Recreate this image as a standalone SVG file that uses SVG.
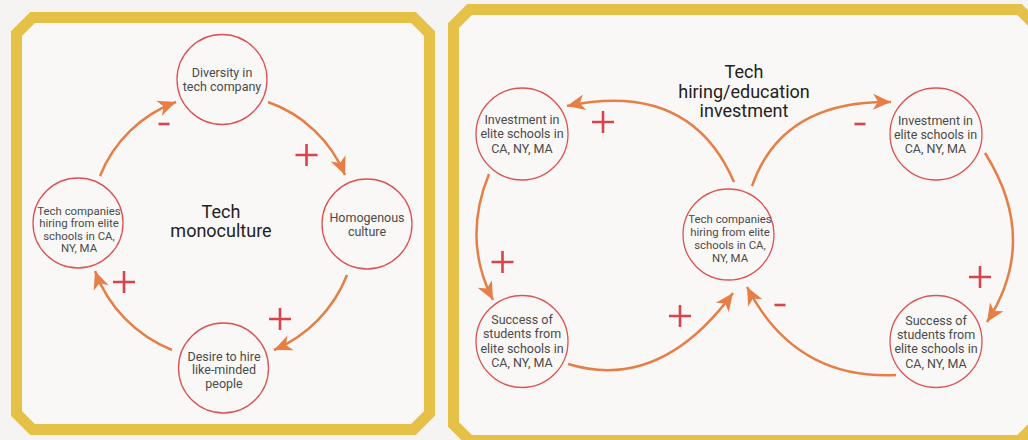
<svg xmlns="http://www.w3.org/2000/svg" width="1028" height="440" viewBox="0 0 1028 440">
<style>
.frame{fill:#faf8f6;stroke:#e6c148;stroke-width:11;stroke-linejoin:miter}
.node{fill:#faf8f6;stroke:#dc5252;stroke-width:1.3}
.nt{font-family:Roboto,"Liberation Sans",sans-serif;font-size:12.5px;fill:#4a4a4a;text-anchor:middle}
.nts{font-size:11.4px}
.title{font-family:Roboto,"Liberation Sans",sans-serif;font-size:18px;fill:#222;text-anchor:middle}
.arr{fill:none;stroke:#e57f47;stroke-width:2.5;marker-end:url(#head)}
.sign{stroke:#d9434a;stroke-width:2.6;fill:none}
</style>
<defs>
<marker id="head" markerUnits="userSpaceOnUse" markerWidth="20" markerHeight="18" refX="18" refY="8" orient="auto" overflow="visible">
<path d="M0,0 L18,8 L0,16 L5,8 Z" fill="#e57f47"/>
</marker>
</defs>
<rect width="1028" height="440" fill="#f6f4f2"/>
<polygon class="frame" points="32.5,17.5 413.5,17.5 429.5,33.5 429.5,413.5 413.5,429.5 32.5,429.5 16.5,413.5 16.5,33.5"/>
<polygon class="frame" points="469.5,9.5 1019.5,9.5 1035.5,25.5 1035.5,424.5 1019.5,440.5 469.5,440.5 453.5,424.5 453.5,25.5"/>

<g id="title-left"><text class="title" x="221" y="218">Tech</text><text class="title" x="221" y="237">monoculture</text></g>
<g id="title-right"><text class="title" x="744" y="78">Tech</text><text class="title" x="744" y="97.5">hiring/education</text><text class="title" x="744" y="117">investment</text></g>

<g id="connectors">
<path class="arr" d="M100,176 A130,130 0 0,1 176,102"/>
<path class="arr" d="M268,102 A130,130 0 0,1 345,175"/>
<path class="arr" d="M347,275 A135,135 0 0,1 274,350"/>
<path class="arr" d="M172,350 A135,135 0 0,1 95,271"/>
<path class="arr" d="M734,182 Q690,80 567,106"/>
<path class="arr" d="M489,174 Q462,240 493,300"/>
<path class="arr" d="M568,364 Q660,392 733,293"/>
<path class="arr" d="M752,186 Q782,100 891,102"/>
<path class="arr" d="M985,153 Q1040,240 987,322"/>
<path class="arr" d="M896,375 Q795,380 747,287"/>
</g>

<g id="signs">
<path class="sign" d="M158.5,124 H169.5"/>
<path class="sign" d="M295.5,155 H317.5 M306.5,144 V166"/>
<path class="sign" d="M269,319 H291 M280,308 V330"/>
<path class="sign" d="M113,282 H135 M124,271 V293"/>
<path class="sign" d="M592,122 H614 M603,111 V133"/>
<path class="sign" d="M491.5,262 H513.5 M502.5,251 V273"/>
<path class="sign" d="M669,316 H691 M680,305 V327"/>
<path class="sign" d="M854.5,124 H865.5"/>
<path class="sign" d="M969,277 H991 M980,266 V288"/>
<path class="sign" d="M774.5,305 H785.5"/>
</g>

<g id="diversity"><circle class="node" cx="222" cy="79.5" r="45"/><text class="nt" x="222" y="77">Diversity in</text><text class="nt" x="222" y="91">tech company</text></g>
<g id="homogenous"><circle class="node" cx="367" cy="224" r="45"/><text class="nt" x="367" y="221.5">Homogenous</text><text class="nt" x="367" y="235.5">culture</text></g>
<g id="desire"><circle class="node" cx="223.5" cy="368" r="45"/><text class="nt" x="224" y="360.5">Desire to hire</text><text class="nt" x="224" y="374.3">like-minded</text><text class="nt" x="224" y="388">people</text></g>
<g id="tech-left"><circle class="node" cx="78" cy="223" r="45"/><text class="nt nts" x="79" y="214.5">Tech companies</text><text class="nt nts" x="79" y="227">hiring from elite</text><text class="nt nts" x="79" y="239.5">schools in CA,</text><text class="nt nts" x="79" y="252">NY, MA</text></g>

<g id="invest-left"><circle class="node" cx="522" cy="134" r="46"/><text class="nt" x="522" y="124">Investment in</text><text class="nt" x="522" y="138.3">elite schools in</text><text class="nt" x="522" y="152.7">CA, NY, MA</text></g>
<g id="success-left"><circle class="node" cx="522" cy="341.5" r="46"/><text class="nt" x="522" y="324">Success of</text><text class="nt" x="522" y="338.3">students from</text><text class="nt" x="522" y="352.7">elite schools in</text><text class="nt" x="522" y="366.7">CA, NY, MA</text></g>
<g id="tech-center"><circle class="node" cx="728.5" cy="234.5" r="45.5"/><text class="nt nts" x="730" y="223.3">Tech companies</text><text class="nt nts" x="730" y="236">hiring from elite</text><text class="nt nts" x="730" y="249">schools in CA,</text><text class="nt nts" x="730" y="261.7">NY, MA</text></g>
<g id="invest-right"><circle class="node" cx="936" cy="134" r="46"/><text class="nt" x="935.5" y="125">Investment in</text><text class="nt" x="935.5" y="139.3">elite schools in</text><text class="nt" x="935.5" y="153.3">CA, NY, MA</text></g>
<g id="success-right"><circle class="node" cx="936" cy="341.5" r="46"/><text class="nt" x="936" y="325">Success of</text><text class="nt" x="936" y="339.3">students from</text><text class="nt" x="936" y="353.3">elite schools in</text><text class="nt" x="936" y="367.7">CA, NY, MA</text></g>
</svg>
